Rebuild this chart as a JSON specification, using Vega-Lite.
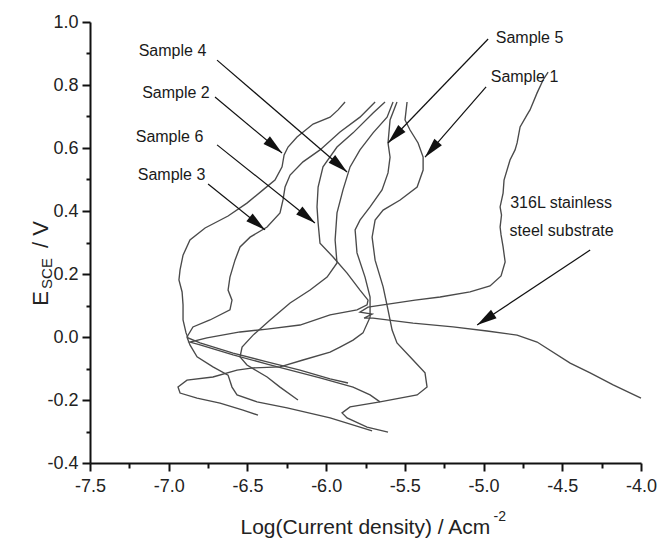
{
  "$schema": "https://vega.github.io/schema/vega-lite/v6.json",
  "width": 551,
  "height": 441,
  "autosize": {"type": "none"},
  "padding": {"left": 90, "top": 22, "right": 18, "bottom": 75},
  "background": "white",
  "config": {
    "view": {"stroke": null},
    "font": "Liberation Sans",
    "axis": {"labelFont": "Liberation Sans", "titleFont": "Liberation Sans"},
    "text": {"font": "Liberation Sans"}
  },
  "datasets": {
    "curves": [
      {"s":"Sample 2","x":-5.861,"y":-0.146},{"s":"Sample 2","x":-5.975,"y":-0.133},{"s":"Sample 2","x":-6.166,"y":-0.105},{"s":"Sample 2","x":-6.375,"y":-0.079},{"s":"Sample 2","x":-6.591,"y":-0.051},{"s":"Sample 2","x":-6.801,"y":-0.019},{"s":"Sample 2","x":-6.877,"y":-0.003},{"s":"Sample 2","x":-6.890,"y":0.013},{"s":"Sample 2","x":-6.909,"y":0.054},{"s":"Sample 2","x":-6.909,"y":0.102},{"s":"Sample 2","x":-6.915,"y":0.143},{"s":"Sample 2","x":-6.935,"y":0.181},{"s":"Sample 2","x":-6.928,"y":0.213},{"s":"Sample 2","x":-6.909,"y":0.260},{"s":"Sample 2","x":-6.865,"y":0.308},{"s":"Sample 2","x":-6.769,"y":0.346},{"s":"Sample 2","x":-6.623,"y":0.384},{"s":"Sample 2","x":-6.503,"y":0.425},{"s":"Sample 2","x":-6.401,"y":0.467},{"s":"Sample 2","x":-6.325,"y":0.498},{"s":"Sample 2","x":-6.280,"y":0.540},{"s":"Sample 2","x":-6.267,"y":0.578},{"s":"Sample 2","x":-6.242,"y":0.603},{"s":"Sample 2","x":-6.185,"y":0.635},{"s":"Sample 2","x":-6.083,"y":0.676},{"s":"Sample 2","x":-5.975,"y":0.698},{"s":"Sample 2","x":-5.924,"y":0.721},{"s":"Sample 2","x":-5.880,"y":0.746},
      {"s":"Sample 3","x":-5.708,"y":-0.298},{"s":"Sample 3","x":-5.975,"y":-0.257},{"s":"Sample 3","x":-6.248,"y":-0.225},{"s":"Sample 3","x":-6.439,"y":-0.206},{"s":"Sample 3","x":-6.566,"y":-0.184},{"s":"Sample 3","x":-6.598,"y":-0.159},{"s":"Sample 3","x":-6.623,"y":-0.121},{"s":"Sample 3","x":-6.719,"y":-0.095},{"s":"Sample 3","x":-6.820,"y":-0.063},{"s":"Sample 3","x":-6.865,"y":-0.025},{"s":"Sample 3","x":-6.884,"y":0.0},{"s":"Sample 3","x":-6.846,"y":0.032},{"s":"Sample 3","x":-6.738,"y":0.054},{"s":"Sample 3","x":-6.611,"y":0.086},{"s":"Sample 3","x":-6.598,"y":0.117},{"s":"Sample 3","x":-6.623,"y":0.149},{"s":"Sample 3","x":-6.611,"y":0.190},{"s":"Sample 3","x":-6.579,"y":0.244},{"s":"Sample 3","x":-6.547,"y":0.286},{"s":"Sample 3","x":-6.483,"y":0.317},{"s":"Sample 3","x":-6.375,"y":0.349},{"s":"Sample 3","x":-6.293,"y":0.394},{"s":"Sample 3","x":-6.274,"y":0.435},{"s":"Sample 3","x":-6.261,"y":0.476},{"s":"Sample 3","x":-6.229,"y":0.514},{"s":"Sample 3","x":-6.147,"y":0.556},{"s":"Sample 3","x":-6.039,"y":0.594},{"s":"Sample 3","x":-5.912,"y":0.651},{"s":"Sample 3","x":-5.785,"y":0.698},{"s":"Sample 3","x":-5.689,"y":0.746},
      {"s":"Sample 6","x":-5.658,"y":-0.206},{"s":"Sample 6","x":-5.721,"y":-0.184},{"s":"Sample 6","x":-5.829,"y":-0.159},{"s":"Sample 6","x":-6.039,"y":-0.130},{"s":"Sample 6","x":-6.375,"y":-0.086},{"s":"Sample 6","x":-6.591,"y":-0.057},{"s":"Sample 6","x":-6.801,"y":-0.025},{"s":"Sample 6","x":-6.865,"y":-0.016},{"s":"Sample 6","x":-6.757,"y":-0.003},{"s":"Sample 6","x":-6.547,"y":0.016},{"s":"Sample 6","x":-6.375,"y":0.025},{"s":"Sample 6","x":-6.166,"y":0.038},{"s":"Sample 6","x":-5.975,"y":0.070},{"s":"Sample 6","x":-5.804,"y":0.086},{"s":"Sample 6","x":-5.740,"y":0.102},{"s":"Sample 6","x":-5.734,"y":0.117},{"s":"Sample 6","x":-5.785,"y":0.149},{"s":"Sample 6","x":-5.867,"y":0.203},{"s":"Sample 6","x":-5.956,"y":0.254},{"s":"Sample 6","x":-6.039,"y":0.298},{"s":"Sample 6","x":-6.051,"y":0.362},{"s":"Sample 6","x":-6.058,"y":0.413},{"s":"Sample 6","x":-6.051,"y":0.476},{"s":"Sample 6","x":-6.020,"y":0.540},{"s":"Sample 6","x":-5.931,"y":0.603},{"s":"Sample 6","x":-5.829,"y":0.648},{"s":"Sample 6","x":-5.702,"y":0.711},{"s":"Sample 6","x":-5.626,"y":0.746},
      {"s":"Sample 4","x":-6.179,"y":-0.200},{"s":"Sample 4","x":-6.293,"y":-0.159},{"s":"Sample 4","x":-6.375,"y":-0.127},{"s":"Sample 4","x":-6.503,"y":-0.089},{"s":"Sample 4","x":-6.547,"y":-0.063},{"s":"Sample 4","x":-6.534,"y":-0.032},{"s":"Sample 4","x":-6.464,"y":0.006},{"s":"Sample 4","x":-6.356,"y":0.054},{"s":"Sample 4","x":-6.229,"y":0.108},{"s":"Sample 4","x":-6.102,"y":0.149},{"s":"Sample 4","x":-5.994,"y":0.190},{"s":"Sample 4","x":-5.931,"y":0.235},{"s":"Sample 4","x":-5.943,"y":0.308},{"s":"Sample 4","x":-5.931,"y":0.394},{"s":"Sample 4","x":-5.893,"y":0.467},{"s":"Sample 4","x":-5.848,"y":0.540},{"s":"Sample 4","x":-5.785,"y":0.594},{"s":"Sample 4","x":-5.702,"y":0.648},{"s":"Sample 4","x":-5.613,"y":0.698},{"s":"Sample 4","x":-5.575,"y":0.746},
      {"s":"Sample 5","x":-6.433,"y":-0.248},{"s":"Sample 5","x":-6.528,"y":-0.232},{"s":"Sample 5","x":-6.674,"y":-0.210},{"s":"Sample 5","x":-6.820,"y":-0.194},{"s":"Sample 5","x":-6.928,"y":-0.178},{"s":"Sample 5","x":-6.941,"y":-0.159},{"s":"Sample 5","x":-6.884,"y":-0.137},{"s":"Sample 5","x":-6.719,"y":-0.127},{"s":"Sample 5","x":-6.566,"y":-0.105},{"s":"Sample 5","x":-6.464,"y":-0.098},{"s":"Sample 5","x":-6.293,"y":-0.095},{"s":"Sample 5","x":-6.147,"y":-0.073},{"s":"Sample 5","x":-5.975,"y":-0.048},{"s":"Sample 5","x":-5.912,"y":-0.032},{"s":"Sample 5","x":-5.829,"y":-0.010},{"s":"Sample 5","x":-5.766,"y":0.013},{"s":"Sample 5","x":-5.721,"y":0.063},{"s":"Sample 5","x":-5.721,"y":0.127},{"s":"Sample 5","x":-5.753,"y":0.190},{"s":"Sample 5","x":-5.804,"y":0.267},{"s":"Sample 5","x":-5.816,"y":0.340},{"s":"Sample 5","x":-5.785,"y":0.371},{"s":"Sample 5","x":-5.721,"y":0.413},{"s":"Sample 5","x":-5.645,"y":0.467},{"s":"Sample 5","x":-5.607,"y":0.521},{"s":"Sample 5","x":-5.594,"y":0.571},{"s":"Sample 5","x":-5.607,"y":0.616},{"s":"Sample 5","x":-5.594,"y":0.689},{"s":"Sample 5","x":-5.550,"y":0.746},
      {"s":"Sample 1","x":-5.607,"y":-0.302},{"s":"Sample 1","x":-5.740,"y":-0.286},{"s":"Sample 1","x":-5.867,"y":-0.257},{"s":"Sample 1","x":-5.899,"y":-0.241},{"s":"Sample 1","x":-5.848,"y":-0.222},{"s":"Sample 1","x":-5.658,"y":-0.206},{"s":"Sample 1","x":-5.422,"y":-0.184},{"s":"Sample 1","x":-5.359,"y":-0.159},{"s":"Sample 1","x":-5.372,"y":-0.114},{"s":"Sample 1","x":-5.448,"y":-0.073},{"s":"Sample 1","x":-5.550,"y":-0.019},{"s":"Sample 1","x":-5.581,"y":0.022},{"s":"Sample 1","x":-5.607,"y":0.086},{"s":"Sample 1","x":-5.638,"y":0.159},{"s":"Sample 1","x":-5.689,"y":0.244},{"s":"Sample 1","x":-5.708,"y":0.317},{"s":"Sample 1","x":-5.689,"y":0.371},{"s":"Sample 1","x":-5.638,"y":0.403},{"s":"Sample 1","x":-5.530,"y":0.435},{"s":"Sample 1","x":-5.422,"y":0.476},{"s":"Sample 1","x":-5.384,"y":0.530},{"s":"Sample 1","x":-5.384,"y":0.571},{"s":"Sample 1","x":-5.416,"y":0.616},{"s":"Sample 1","x":-5.467,"y":0.657},{"s":"Sample 1","x":-5.499,"y":0.689},{"s":"Sample 1","x":-5.486,"y":0.746},
      {"s":"316L","x":-4.000,"y":-0.194},{"s":"316L","x":-4.177,"y":-0.152},{"s":"316L","x":-4.323,"y":-0.114},{"s":"316L","x":-4.450,"y":-0.083},{"s":"316L","x":-4.660,"y":-0.016},{"s":"316L","x":-4.787,"y":0.006},{"s":"316L","x":-4.978,"y":0.019},{"s":"316L","x":-5.194,"y":0.032},{"s":"316L","x":-5.448,"y":0.044},{"s":"316L","x":-5.702,"y":0.060},{"s":"316L","x":-5.759,"y":0.060},{"s":"316L","x":-5.708,"y":0.073},{"s":"316L","x":-5.785,"y":0.079},{"s":"316L","x":-5.734,"y":0.095},{"s":"316L","x":-5.435,"y":0.117},{"s":"316L","x":-5.276,"y":0.127},{"s":"316L","x":-5.086,"y":0.143},{"s":"316L","x":-4.959,"y":0.162},{"s":"316L","x":-4.889,"y":0.194},{"s":"316L","x":-4.863,"y":0.238},{"s":"316L","x":-4.876,"y":0.286},{"s":"316L","x":-4.889,"y":0.324},{"s":"316L","x":-4.895,"y":0.349},{"s":"316L","x":-4.886,"y":0.387},{"s":"316L","x":-4.895,"y":0.413},{"s":"316L","x":-4.876,"y":0.457},{"s":"316L","x":-4.870,"y":0.498},{"s":"316L","x":-4.832,"y":0.562},{"s":"316L","x":-4.800,"y":0.594},{"s":"316L","x":-4.787,"y":0.616},{"s":"316L","x":-4.768,"y":0.667},{"s":"316L","x":-4.724,"y":0.705},{"s":"316L","x":-4.705,"y":0.721},{"s":"316L","x":-4.660,"y":0.775},{"s":"316L","x":-4.622,"y":0.816},{"s":"316L","x":-4.590,"y":0.841}
    ],
    "arrows": [
      {"s":"Sample 4","x":-6.693,"y":0.879,"x2":-5.867,"y2":0.524},
      {"s":"Sample 2","x":-6.706,"y":0.762,"x2":-6.280,"y2":0.584},
      {"s":"Sample 6","x":-6.693,"y":0.610,"x2":-6.071,"y2":0.362},
      {"s":"Sample 3","x":-6.750,"y":0.486,"x2":-6.388,"y2":0.340},
      {"s":"Sample 5","x":-4.971,"y":0.946,"x2":-5.607,"y2":0.616},
      {"s":"Sample 1","x":-4.984,"y":0.794,"x2":-5.372,"y2":0.571},
      {"s":"316L","x":-4.323,"y":0.276,"x2":-5.041,"y2":0.038}
    ],
    "labels": [
      {"t":"Sample 4","x":-6.976,"y":0.908},
      {"t":"Sample 2","x":-6.954,"y":0.775},
      {"t":"Sample 6","x":-6.995,"y":0.635},
      {"t":"Sample 3","x":-6.982,"y":0.514},
      {"t":"Sample 5","x":-4.708,"y":0.949},
      {"t":"Sample 1","x":-4.740,"y":0.825},
      {"t":"316L stainless","x":-4.508,"y":0.425},
      {"t":"steel substrate","x":-4.504,"y":0.337}
    ]
  },
  "resolve": {"axis": {"x": "independent", "y": "independent"}},
  "layer": [
    {
      "data": {"name": "curves"},
      "mark": {"type": "line", "color": "#4a4a4a", "strokeWidth": 1.35},
      "encoding": {
        "x": {"field": "x", "type": "quantitative",
          "scale": {"domain": [-7.5, -4.0], "nice": false, "zero": false},
          "axis": {"orient": "bottom",
            "values": [-7.5,-7.25,-7,-6.75,-6.5,-6.25,-6,-5.75,-5.5,-5.25,-5,-4.75,-4.5,-4.25,-4],
            "labelExpr": "abs(round(datum.value*4)) % 2 == 0 ? replace(format(datum.value, '.1f'), '\u2212', '-') : ''",
            "tickSize": {"condition": {"test": "abs(round(datum.value*4)) % 2 == 0", "value": 8}, "value": 5},
            "tickWidth": 2, "tickColor": "#111111", "domainColor": "#111111", "domainWidth": 2,
            "labelFontSize": 18, "labelColor": "#222222", "labelPadding": 6, "labelOverlap": false, "labelFlush": false,
            "grid": false,
            "title": "Log(Current density) / Acm", "titleFontSize": 21, "titleFontWeight": "normal", "titleColor": "#222222",
            "titleX": 150, "titleY": 70, "titleAlign": "left", "titleBaseline": "alphabetic"}},
        "y": {"field": "y", "type": "quantitative",
          "scale": {"domain": [-0.4, 1.0], "nice": false, "zero": false},
          "axis": {"orient": "left",
            "values": [-0.4,-0.3,-0.2,-0.1,0,0.1,0.2,0.3,0.4,0.5,0.6,0.7,0.8,0.9,1.0],
            "labelExpr": "abs(round(datum.value*10)) % 2 == 0 ? replace(format(datum.value, '.1f'), '\u2212', '-') : ''",
            "tickSize": {"condition": {"test": "abs(round(datum.value*10)) % 2 == 0", "value": 8}, "value": 4},
            "tickWidth": 2, "tickColor": "#111111", "domainColor": "#111111", "domainWidth": 2,
            "labelFontSize": 18, "labelColor": "#222222", "labelPadding": 4, "labelOverlap": false, "labelFlush": false,
            "grid": false,
            "title": "E", "titleFontSize": 22, "titleFontWeight": "normal", "titleColor": "#222222",
            "titleAngle": 270, "titleX": -43, "titleY": 276, "titleAlign": "center", "titleBaseline": "alphabetic"}},
        "detail": {"field": "s"},
        "order": {"value": null}
      }
    },
    {
      "data": {"name": "arrows"},
      "mark": {"type": "rule", "color": "#111111", "strokeWidth": 1.2},
      "encoding": {
        "x": {"field": "x", "type": "quantitative",
          "axis": {"orient": "bottom", "domain": false, "ticks": false, "labels": false, "grid": false,
            "title": "-2", "titleFontSize": 14, "titleFontWeight": "normal", "titleColor": "#222222",
            "titleX": 403, "titleY": 57, "titleAlign": "left", "titleBaseline": "alphabetic"}},
        "y": {"field": "y", "type": "quantitative",
          "axis": {"orient": "left", "domain": false, "ticks": false, "labels": false, "grid": false,
            "title": "SCE", "titleFontSize": 15, "titleFontWeight": "normal", "titleColor": "#222222",
            "titleAngle": 270, "titleX": -39, "titleY": 251, "titleAlign": "center", "titleBaseline": "alphabetic"}},
        "x2": {"field": "x2"},
        "y2": {"field": "y2"}
      }
    },
    {
      "data": {"name": "arrows"},
      "transform": [{"calculate": "atan2((datum.x2-datum.x)*157.4, (datum.y2-datum.y)*315)*180/PI", "as": "ang"}],
      "mark": {"type": "point", "shape": "M0,0L-0.5,2L0.5,2Z", "filled": true, "color": "#111111", "opacity": 1, "size": 400},
      "encoding": {
        "x": {"field": "x2", "type": "quantitative", "axis": null},
        "y": {"field": "y2", "type": "quantitative",
          "axis": {"orient": "left", "domain": false, "ticks": false, "labels": false, "grid": false,
            "title": "/ V", "titleFontSize": 22, "titleFontWeight": "normal", "titleColor": "#222222",
            "titleAngle": 270, "titleX": -43, "titleY": 212, "titleAlign": "center", "titleBaseline": "alphabetic"}},
        "angle": {"field": "ang", "type": "quantitative", "scale": null}
      }
    },
    {
      "data": {"name": "labels"},
      "mark": {"type": "text", "fontSize": 16, "color": "#1a1a1a", "align": "center", "baseline": "middle"},
      "encoding": {
        "x": {"field": "x", "type": "quantitative", "axis": null},
        "y": {"field": "y", "type": "quantitative", "axis": null},
        "text": {"field": "t"}
      }
    }
  ]
}
